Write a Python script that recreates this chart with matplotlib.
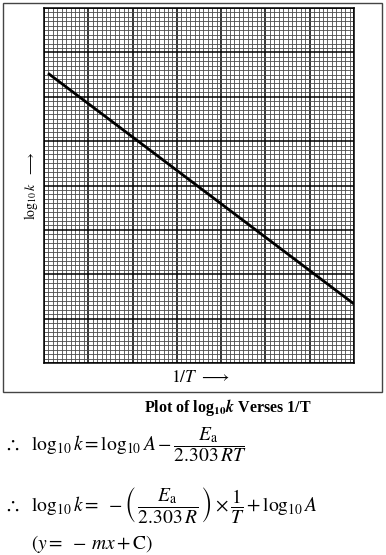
import numpy as np
import matplotlib
matplotlib.use("Agg")
import matplotlib.pyplot as plt
from matplotlib.patches import Rectangle

plt.rcParams['mathtext.fontset'] = 'stix'
plt.rcParams['font.family'] = ['Liberation Serif', 'DejaVu Serif']

# Data
inv_T = [0.09, 7.0]
log_k = [6.53, 1.33]
x_major = 7
y_major = 8

W, H = 386, 555
fig = plt.figure(figsize=(W / 100, H / 100), dpi=100)

def fx(px):
    return px / W

def fy(py):
    return 1 - py / H

# outer frame
fig.patches.append(Rectangle((fx(3), fy(392)), fx(382) - fx(3), fy(3) - fy(392),
                             transform=fig.transFigure, fill=False,
                             edgecolor='#444444', lw=1.0))

ax = fig.add_axes([fx(44), fy(363), fx(354) - fx(44), fy(8) - fy(363)])
ax.set_xlim(0, x_major)
ax.set_ylim(0, y_major)

for v in np.arange(0, x_major + 1e-9, 0.1):
    major = abs(v - round(v)) < 1e-6
    ax.axvline(v, color='black' if major else '#4a4a4a',
               lw=1.1 if major else 0.6, zorder=1)
for v in np.arange(0, y_major + 1e-9, 0.1):
    major = abs(v - round(v)) < 1e-6
    ax.axhline(v, color='black' if major else '#4a4a4a',
               lw=1.1 if major else 0.6, zorder=1)

ax.plot(inv_T, log_k, color='black', lw=2.0, zorder=3, solid_capstyle='butt')
ax.set_xticks([])
ax.set_yticks([])
for s in ax.spines.values():
    s.set_linewidth(1.1)

# axis labels
fig.text(fx(31), fy(186), r'$\log_{10}k$  $\longrightarrow$', rotation=90,
         ha='center', va='center', fontsize=10)
fig.text(fx(200), fy(378), r'$1/T$ $\longrightarrow$', ha='center', va='center',
         fontsize=12.5)

# caption
fig.text(fx(228), fy(408), r'Plot of log$_{\mathbf{10}}$$\boldsymbol{k}$ Verses 1/T',
         ha='center', va='center', fontsize=11.5, fontweight='bold')

fig.text(fx(4), fy(445),
         r'$\therefore\ \ \log_{10}k = \log_{10}A - \dfrac{E_{\mathrm{a}}}{2.303\,RT}$',
         ha='left', va='center', fontsize=14)
fig.text(fx(4), fy(505),
         r'$\therefore\ \ \log_{10}k =\ -\left(\,\dfrac{E_{\mathrm{a}}}{2.303\,R}\,\right)\times\dfrac{1}{T} + \log_{10}A$',
         ha='left', va='center', fontsize=14)
fig.text(fx(31), fy(544), r'$(y =\ -\,mx + \mathrm{C})$', ha='left', va='center',
         fontsize=14)

fig.savefig('out.png', dpi=100)
